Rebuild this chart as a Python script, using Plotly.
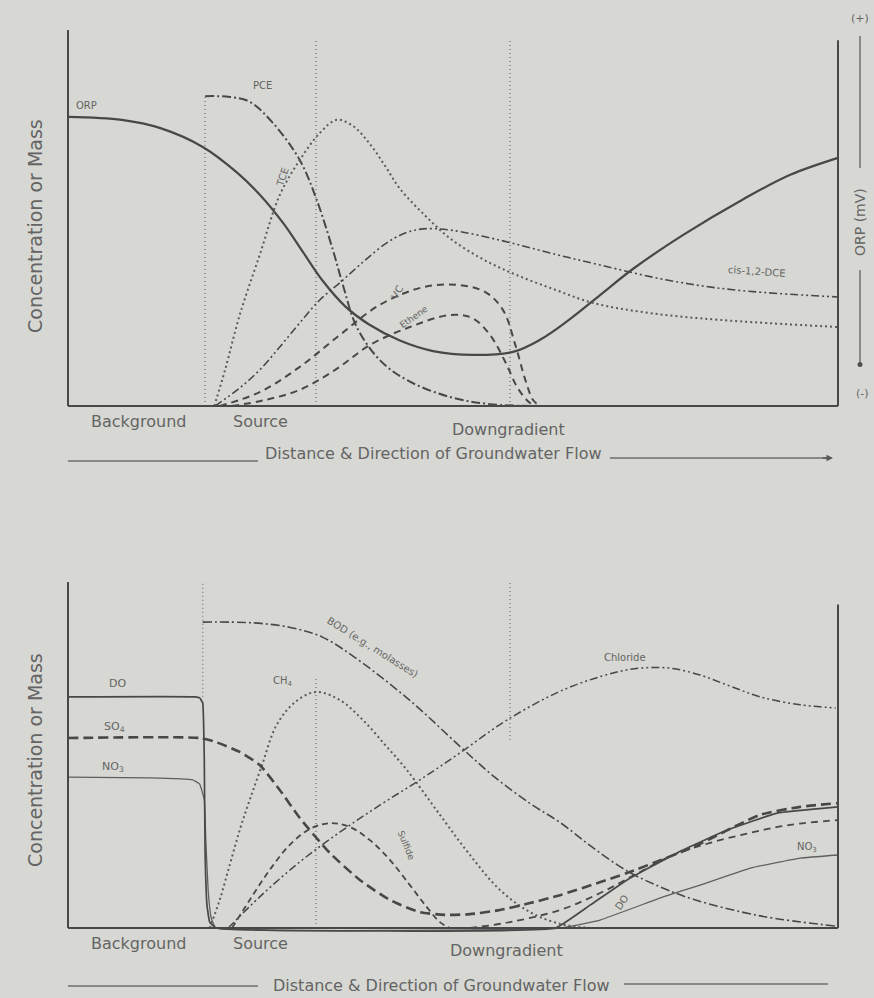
import plotly.graph_objects as go

W, H = 874, 998
BG = "rgb(215,216,211)"
INK = "rgb(72,72,72)"
GUIDE = "rgb(120,120,120)"
TXT = "rgb(100,100,100)"
FONT = "DejaVu Sans"

# ---------------- upper panel: chlorinated ethenes and ORP ----------------
orp_x = [0, 7, 12, 17.5, 22, 25, 28, 30.5, 33, 36, 39, 43.1, 47.4, 52.6, 57.8, 61.3, 64.8, 69.1, 73.4, 79.9, 87.7, 93.8, 100]
orp_y = [76.9, 76.1, 73.9, 68.9, 62.0, 56.0, 48.5, 41.0, 33.5, 26.5, 21.8, 17.4, 14.6, 13.6, 14.4, 17.6, 22.5, 29.5, 36.5, 45.5, 55.0, 61.5, 66.0]

pce_x = [17.8, 21.0, 23.6, 26.6, 30.1, 32.3, 34.4, 35.7, 37.5, 40.5, 44.0, 49.6, 54.8, 61.9]
pce_y = [82.4, 82.2, 80.9, 75.3, 65.4, 54.8, 41.5, 32.2, 21.0, 12.2, 6.9, 2.4, 0.5, 0]

tce_x = [19.0, 20.4, 22.3, 24.9, 27.5, 30.1, 32.7, 34.9, 37.0, 39.2, 41.2, 43.1, 46.4, 49.6, 53.9, 58.3, 63.3, 68.2, 75.6, 84.7, 100]
tce_y = [0, 9.6, 24.2, 40.2, 56.1, 65.4, 72.6, 76.1, 74.5, 69.7, 63.8, 57.8, 50.6, 44.6, 39.0, 34.8, 30.9, 27.4, 24.7, 22.9, 21.0]

dce_x = [19.1, 22.3, 24.9, 27.5, 30.1, 32.7, 35.7, 38.6, 41.4, 43.8, 46.1, 49.6, 56.1, 62.6, 69.1, 77.8, 86.4, 100]
dce_y = [0, 4.8, 9.6, 15.7, 22.1, 28.2, 33.5, 38.8, 43.4, 46.0, 47.1, 46.8, 44.1, 40.7, 37.5, 33.5, 30.9, 29.0]

vc_x = [19.7, 24.9, 30.1, 35.3, 40.5, 46.1, 50.5, 54.2, 56.5, 58.1, 59.4, 60.4, 61.3]
vc_y = [0, 3.7, 10.4, 18.9, 26.9, 31.6, 32.2, 30.3, 25.5, 16.2, 6.9, 1.6, 0]

eth_x = [21.3, 25.6, 30.1, 34.7, 39.2, 44.4, 49.6, 52.5, 54.8, 56.8, 58.4, 60.0, 61.0]
eth_y = [0, 1.6, 4.3, 9.6, 16.2, 21.0, 24.2, 23.4, 18.9, 11.7, 4.8, 0.8, 0]

top_guide_x = [17.8, 32.2, 57.4]
top_guide_top = [82.4, 97.3, 97.3]

# ---------------- lower panel: electron acceptors and by-products ----------------
do_x = [0, 16.5, 17.1, 17.5, 17.7, 17.8, 18.05, 18.4, 19.2, 63.3, 67.8, 72.6, 79.1, 85.6, 92.1, 100]
do_y = [66.8, 66.8, 66.5, 65.0, 48.6, 22.5, 6.6, 1.7, 0, 0, 6.6, 13.9, 21.7, 28.3, 33.2, 35.0]

so4_x = [0, 17.1, 19.1, 22.3, 24.9, 27.5, 30.1, 34.0, 37.9, 41.8, 45.7, 49.0, 52.2, 56.1, 60.0, 63.9, 72.6, 81.2, 89.9, 95.1, 100]
so4_y = [54.9, 54.9, 53.8, 50.9, 47.1, 39.9, 31.8, 21.7, 13.9, 8.1, 4.6, 3.8, 4.0, 5.2, 7.2, 9.5, 15.9, 23.4, 32.7, 35.0, 36.1]

no3_x = [0, 10.6, 16.2, 17.1, 17.7, 17.9, 18.2, 18.6, 19.2, 63.9, 69.1, 77.3, 82.1, 88.6, 95.1, 100]
no3_y = [43.6, 43.4, 42.8, 41.6, 37.0, 25.4, 11.0, 2.9, 0, 0, 2.3, 9.0, 12.4, 17.3, 20.2, 21.1]

ch4_x = [18.4, 19.7, 21.0, 22.3, 23.6, 25.2, 27.1, 29.5, 32.2, 35.3, 38.3, 41.2, 44.0, 48.3, 52.2, 56.1, 60.0, 63.9, 67.8]
ch4_y = [0, 8.1, 18.2, 28.3, 37.0, 47.1, 58.7, 65.3, 68.2, 65.9, 60.1, 52.9, 45.7, 32.7, 21.1, 11.0, 4.6, 1.2, 0]

bod_x = [17.5, 24.0, 29.0, 33.1, 38.3, 44.8, 50.9, 55.2, 60.0, 63.9, 68.0, 72.6, 77.0, 81.2, 89.9, 100]
bod_y = [88.4, 88.2, 86.8, 84.0, 76.5, 65.0, 52.5, 44.0, 36.0, 30.5, 23.5, 16.5, 11.8, 8.3, 3.5, 0.5]

cl_x = [20.8, 24.9, 30.1, 35.3, 40.5, 45.7, 50.9, 57.0, 64.3, 70.8, 74.3, 78.2, 82.1, 86.0, 89.9, 95.1, 99.7]
cl_y = [0, 9.0, 19.1, 27.7, 35.5, 42.8, 50.6, 60.1, 68.8, 73.7, 75.1, 75.1, 73.1, 69.9, 66.8, 64.5, 63.6]

sul_x = [21.3, 23.6, 26.2, 28.8, 31.4, 34.0, 36.6, 39.2, 41.8, 44.4, 46.4, 48.3, 49.6]
sul_y = [0, 8.1, 16.8, 24.0, 28.6, 30.3, 29.2, 25.4, 19.7, 12.4, 6.6, 1.7, 0]

fe_x = [52.2, 57.4, 63.9, 69.1, 74.3, 78.6, 83.4, 88.6, 93.8, 100]
fe_y = [0, 1.7, 5.2, 10.1, 16.2, 21.1, 24.6, 27.5, 29.8, 31.2]

bot_guide_x = [17.5, 32.2, 57.4]
bot_guide_lo = [66.8, 0, 54.3]
bot_guide_hi = [100, 72.5, 100]

zone_names = ["Background", "Source", "Downgradient"]
flow_title = "Distance & Direction of Groundwater Flow"
y_title = "Concentration or Mass"

# ---------------- geometry helpers (pixel -> paper) ----------------
X0, X1 = 68, 838          # pixel columns of distance 0 and 100
XR = [-2, 102]
TOP0, TOP1 = 406, 30      # pixel rows of concentration 0 and 100 (upper)
BOT0, BOT1 = 928, 582     # pixel rows of concentration 0 and 100 (lower)
YR = [-3, 103]


def px(p):
    return p / W


def py(p):
    return 1 - p / H


def x_domain():
    s = (X1 - X0) / 100.0
    return [px(X0 + XR[0] * s), px(X0 + XR[1] * s)]


def y_domain(p0, p1):
    s = (p0 - p1) / 100.0
    return [py(p0 - YR[0] * s), py(p0 - YR[1] * s)]


fig = go.Figure()


def curve(x, y, axes, width, dash, color=INK, smooth=1.0):
    fig.add_trace(go.Scatter(
        x=x, y=y, mode="lines", xaxis=axes[0], yaxis=axes[1],
        line=dict(color=color, width=width, dash=dash, shape="spline", smoothing=smooth),
        hoverinfo="skip", showlegend=False))


def vline(x, y0, y1, axes):
    fig.add_trace(go.Scatter(
        x=[x, x], y=[y0, y1], mode="lines", xaxis=axes[0], yaxis=axes[1],
        line=dict(color=GUIDE, width=1.3, dash="1px,3px"),
        hoverinfo="skip", showlegend=False))


TOP = ("x", "y")
BOT = ("x2", "y2")

# zone guides
for gx, gt in zip(top_guide_x, top_guide_top):
    vline(gx, 0, gt, TOP)
for gx, lo, hi in zip(bot_guide_x, bot_guide_lo, bot_guide_hi):
    vline(gx, lo, hi, BOT)

# upper curves
curve(orp_x, orp_y, TOP, 2.2, "solid")
curve(pce_x, pce_y, TOP, 2.0, "9px,3px,2px,3px")
curve(tce_x, tce_y, TOP, 2.0, "2px,3px", color="rgb(90,90,90)")
curve(dce_x, dce_y, TOP, 1.6, "8px,3px,2px,3px,2px,3px")
curve(vc_x, vc_y, TOP, 2.0, "7px,5px")
curve(eth_x, eth_y, TOP, 2.0, "7px,5px")

# lower curves
curve(bod_x, bod_y, BOT, 1.6, "9px,3px,2px,3px")
curve(cl_x, cl_y, BOT, 1.5, "8px,3px,2px,3px,2px,3px")
curve(ch4_x, ch4_y, BOT, 2.0, "2px,3px", color="rgb(90,90,90)")
curve(sul_x, sul_y, BOT, 1.8, "6px,4px")
curve(fe_x, fe_y, BOT, 1.8, "7px,5px")
curve(no3_x, no3_y, BOT, 1.3, "solid", color="rgb(95,95,95)", smooth=0.3)
curve(so4_x, so4_y, BOT, 2.6, "10px,5px", smooth=0.6)
curve(do_x, do_y, BOT, 1.7, "solid", smooth=0.3)

# axes frames drawn in data space
shapes = []
for xr, yr, right_top in (("x", "y", 97.3), ("x2", "y2", 93.5)):
    shapes.append(dict(type="line", xref=xr, yref=yr, x0=0, x1=0, y0=0, y1=100,
                       line=dict(color=INK, width=2)))
    shapes.append(dict(type="line", xref=xr, yref=yr, x0=0, x1=100, y0=0, y1=0,
                       line=dict(color=INK, width=2)))
    shapes.append(dict(type="line", xref=xr, yref=yr, x0=100, x1=100, y0=0, y1=right_top,
                       line=dict(color=INK, width=2)))

# flow-direction rules under each panel
for left_y, right_y, l_end, r_start, r_end in ((461, 458, 258, 610, 830), (986, 984, 258, 624, 828)):
    shapes.append(dict(type="line", xref="paper", yref="paper",
                       x0=px(68), x1=px(l_end), y0=py(left_y), y1=py(left_y),
                       line=dict(color="rgb(110,110,110)", width=1.3)))
    shapes.append(dict(type="line", xref="paper", yref="paper",
                       x0=px(r_start), x1=px(r_end), y0=py(right_y), y1=py(right_y),
                       line=dict(color="rgb(110,110,110)", width=1.3)))

# ORP scale at the right of the upper panel
shapes.append(dict(type="line", xref="paper", yref="paper", x0=px(860), x1=px(860),
                   y0=py(36), y1=py(168), line=dict(color="rgb(95,95,95)", width=1.3)))
shapes.append(dict(type="line", xref="paper", yref="paper", x0=px(860), x1=px(860),
                   y0=py(270), y1=py(364), line=dict(color="rgb(95,95,95)", width=1.3)))
shapes.append(dict(type="circle", xref="paper", yref="paper", x0=px(857.5), x1=px(862.5),
                   y0=py(362), y1=py(367), fillcolor="rgb(80,80,80)", line=dict(width=0)))

annotations = []


def label(text, x, y, axes=None, size=11, angle=0, anchor="center"):
    a = dict(text=text, x=x, y=y, showarrow=False, textangle=angle, xanchor=anchor,
             yanchor="middle", font=dict(family=FONT, size=size, color=TXT))
    if axes:
        a.update(xref=axes[0], yref=axes[1])
    else:
        a.update(xref="paper", yref="paper")
    annotations.append(a)


# curve labels, upper
label("ORP", 0.8, 79.8, TOP, size=10, anchor="left")
label("PCE", 25.2, 85.3, TOP, size=10)
label("TCE", 27.8, 60.9, TOP, size=10, angle=-72)
label("cis-1,2-DCE", 89.5, 35.8, TOP, size=10, angle=4)
label("VC", 42.7, 30.3, TOP, size=10, angle=-60)
label("Ethene", 44.9, 23.6, TOP, size=9, angle=-35)

# curve labels, lower
label("DO", 6.4, 70.8, BOT, size=11)
label("SO<sub>4</sub>", 6.1, 58.0, BOT, size=11)
label("NO<sub>3</sub>", 5.8, 46.4, BOT, size=11)
label("CH<sub>4</sub>", 27.9, 71.3, BOT, size=10)
label("BOD (e.g., molasses)", 39.6, 81.0, BOT, size=10, angle=32)
label("Chloride", 72.3, 78.2, BOT, size=10)
label("Sulfide", 43.9, 24.0, BOT, size=9, angle=68)
label("NO<sub>3</sub>", 96.0, 23.3, BOT, size=10)
label("DO", 71.9, 7.4, BOT, size=10, angle=-55)

# zone names and flow titles
for (cx, cy), name in zip(((138, 421), (260, 421), (508, 429)), zone_names):
    label(name, px(cx), py(cy), size=16)
for (cx, cy), name in zip(((138, 943), (260, 943), (507, 950)), zone_names):
    label(name, px(cx), py(cy), size=16)
label(flow_title, px(433), py(453), size=16)
label(flow_title, px(441), py(985), size=16)

# arrow head on the upper flow rule
annotations.append(dict(xref="paper", yref="paper", x=px(833), y=py(458), ax=-12, ay=0,
                        text="", showarrow=True, arrowhead=2, arrowsize=1, arrowwidth=1.3,
                        arrowcolor="rgb(90,90,90)"))

# vertical axis titles
label(y_title, px(35), py(226), size=19, angle=-90)
label(y_title, px(35), py(760), size=19, angle=-90)

# ORP scale text
label("(+)", px(860), py(18), size=11)
label("ORP (mV)", px(860), py(222), size=14, angle=-90)
label("(-)", px(862), py(393), size=11)

axis_common = dict(visible=False, showgrid=False, zeroline=False, fixedrange=True)
fig.update_layout(
    width=W, height=H,
    margin=dict(l=0, r=0, t=0, b=0),
    paper_bgcolor=BG, plot_bgcolor=BG,
    xaxis=dict(domain=x_domain(), range=XR, anchor="y", **axis_common),
    yaxis=dict(domain=y_domain(TOP0, TOP1), range=YR, anchor="x", **axis_common),
    xaxis2=dict(domain=x_domain(), range=XR, anchor="y2", **axis_common),
    yaxis2=dict(domain=y_domain(BOT0, BOT1), range=YR, anchor="x2", **axis_common),
    shapes=shapes,
    annotations=annotations,
    showlegend=False,
)

fig.write_html("out.html")
